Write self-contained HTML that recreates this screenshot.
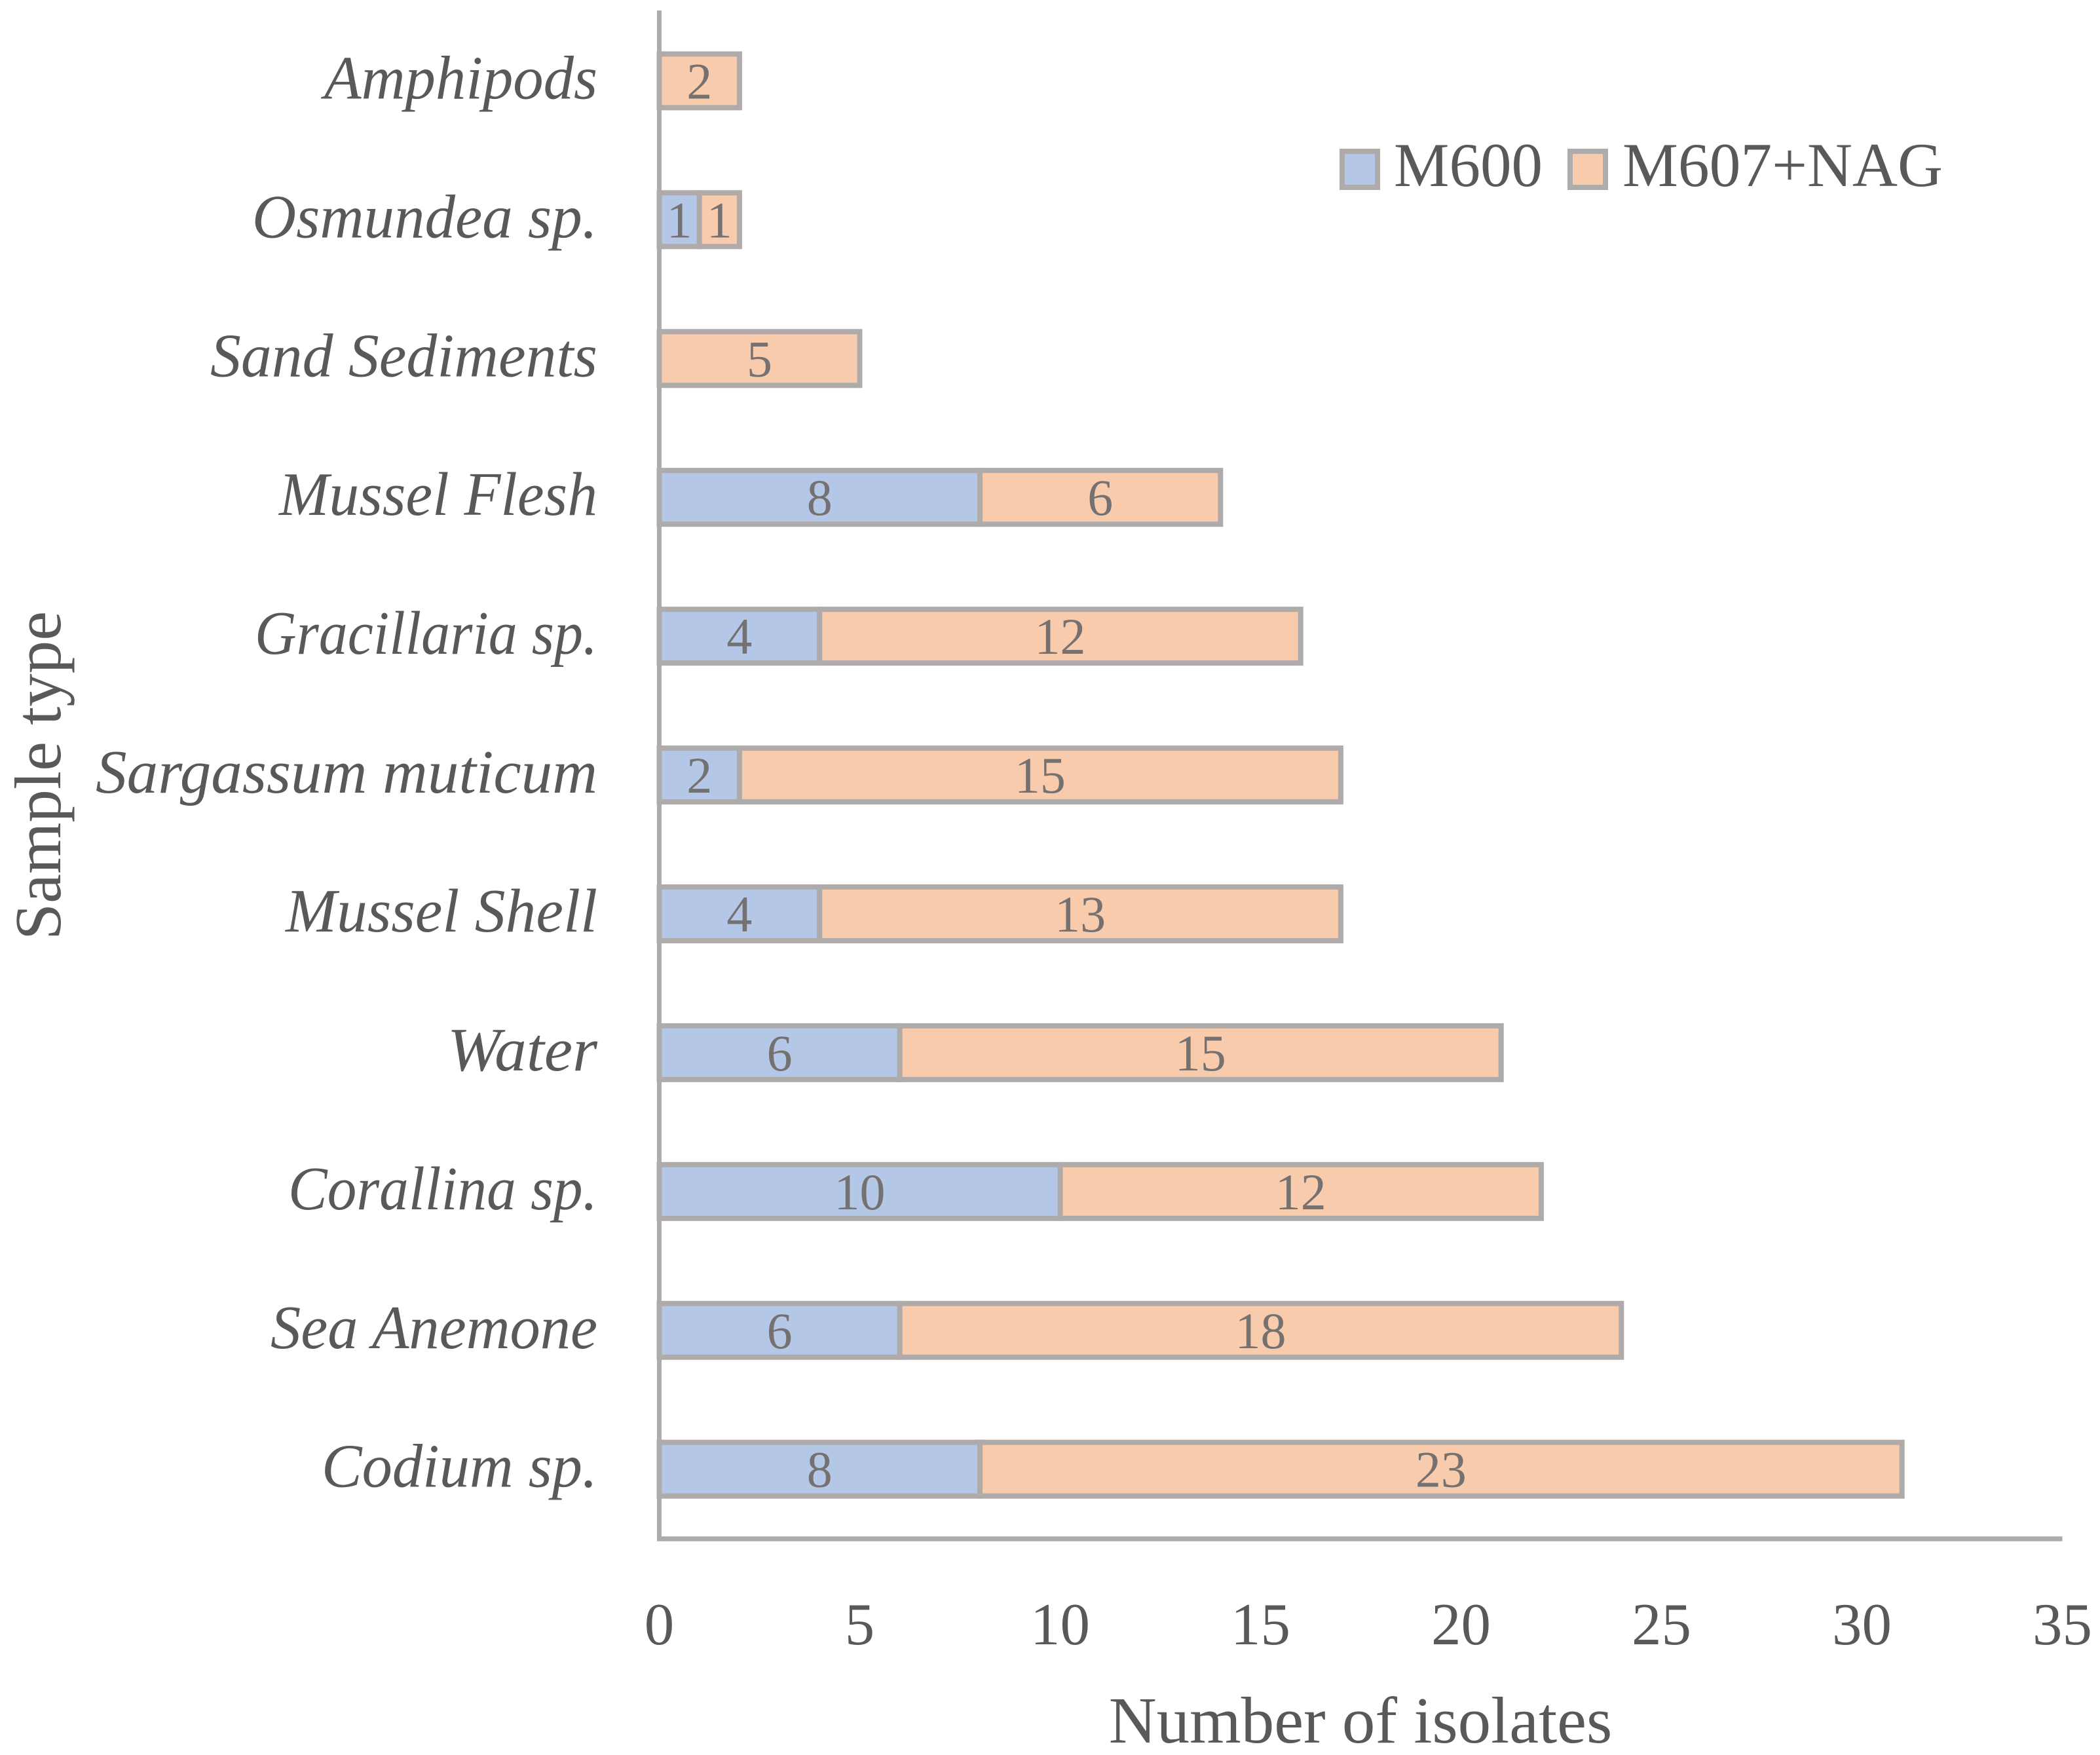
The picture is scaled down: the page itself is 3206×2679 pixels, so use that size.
<!DOCTYPE html>
<html lang="en">
<head>
<meta charset="utf-8">
<title>Isolates by sample type</title>
<style>
html,body{margin:0;padding:0;background:#fff;width:3206px;height:2679px;overflow:hidden}
svg{display:block}
text{font-family:"Liberation Serif",serif}
</style>
</head>
<body>
<svg id="chart" xmlns="http://www.w3.org/2000/svg" width="3206" height="2679" viewBox="0 0 3206 2679">
<rect x="0" y="0" width="3206" height="2679" fill="#ffffff"/>
</svg>
<script>
const categories = ["Amphipods","Osmundea sp.","Sand Sediments","Mussel Flesh","Gracillaria sp.","Sargassum muticum","Mussel Shell","Water","Corallina sp.","Sea Anemone","Codium sp."];
const m600Values = [0,1,0,8,4,2,4,6,10,6,8];
const m607Values = [2,1,5,6,12,15,13,15,12,18,23];
const xTicks = [0,5,10,15,20,25,30,35];
const seriesNames = ["M600","M607+NAG"];

const NS = "http://www.w3.org/2000/svg";
const svg = document.getElementById("chart");
const X0 = 1006.5, UNIT = 61.2, XMAX = 35;
const Y0 = 123.4, BAND = 211.93, BAR_H = 82;
const AXIS_Y = 2349, AXIS_TOP = 16;
const STROKE = "#AFABAB", BLUE = "#B4C7E7", ORANGE = "#F8CBAD", TXT = "#595959", LBL = "#767171";
// Text-fit widths (typesetting only) compensating for the substitute serif face
const labelFit = {"Amphipods":417,"Osmundea sp.":527,"Sand Sediments":591,"Mussel Flesh":486,"Gracillaria sp.":523,"Sargassum muticum":766,"Mussel Shell":476,"Water":229,"Corallina sp.":472,"Sea Anemone":499,"Codium sp.":421};
const xScale = v => X0 + v * UNIT;
const yScale = i => Y0 + i * BAND;

function mk(tag, attrs, content) {
  const el = document.createElementNS(NS, tag);
  for (const k in attrs) el.setAttribute(k, attrs[k]);
  if (content !== undefined) el.textContent = content;
  return el;
}
function slug(s) { return s.toLowerCase().replace(/[^a-z0-9]+/g, "-").replace(/-$/, ""); }

// Bars
categories.forEach((cat, i) => {
  const cy = yScale(i);
  const top = cy - BAR_H / 2;
  const a = m600Values[i], b = m607Values[i];
  if (a > 0) {
    const r = mk("rect", {x: xScale(0), y: top, width: xScale(a) - xScale(0), height: BAR_H, fill: BLUE, stroke: STROKE, "stroke-width": 8});
    
    
    svg.appendChild(r);
  }
  if (b > 0) {
    const r = mk("rect", {x: xScale(a), y: top, width: xScale(a + b) - xScale(a), height: BAR_H, fill: ORANGE, stroke: STROKE, "stroke-width": 8});
    
    
    svg.appendChild(r);
  }
  if (a > 0) {
    const t = mk("text", {x: xScale(a / 2), y: cy + 27, "text-anchor": "middle", "font-size": 78, fill: LBL}, String(a));
    
    
    svg.appendChild(t);
  }
  if (b > 0) {
    const t = mk("text", {x: xScale(a + b / 2), y: cy + 27, "text-anchor": "middle", "font-size": 78, fill: LBL}, String(b));
    
    
    svg.appendChild(t);
  }
  const c = mk("text", {x: 912, y: cy + 27, "text-anchor": "end", "font-size": 94, "font-style": "italic", fill: TXT, textLength: labelFit[cat] || 500, lengthAdjust: "spacingAndGlyphs"}, cat);
  
  
  svg.appendChild(c);
});

// Axes
const yAxis = mk("line", {x1: X0, y1: AXIS_TOP, x2: X0, y2: AXIS_Y + 3.5, stroke: STROKE, "stroke-width": 7});


svg.appendChild(yAxis);
const xAxis = mk("line", {x1: X0 - 3.5, y1: AXIS_Y, x2: xScale(XMAX), y2: AXIS_Y, stroke: STROKE, "stroke-width": 7.5});


svg.appendChild(xAxis);

xTicks.forEach(v => {
  const t = mk("text", {x: xScale(v), y: 2510, "text-anchor": "middle", "font-size": 91, fill: TXT}, String(v));
  
  
  svg.appendChild(t);
});

// Axis titles
const xTitle = mk("text", {x: 2077, y: 2660, "text-anchor": "middle", "font-size": 101, fill: TXT}, "Number of isolates");


svg.appendChild(xTitle);
const yTitle = mk("text", {x: 0, y: 0, transform: "translate(92,1184) rotate(-90)", "text-anchor": "middle", "font-size": 101, fill: TXT}, "Sample type");


svg.appendChild(yTitle);

// Legend
const swatch1 = mk("rect", {x: 2049, y: 231, width: 54, height: 55, fill: BLUE, stroke: STROKE, "stroke-width": 8});


svg.appendChild(swatch1);
const legend1 = mk("text", {x: 2128, y: 284, "font-size": 95, fill: TXT}, seriesNames[0]);


svg.appendChild(legend1);
const swatch2 = mk("rect", {x: 2397, y: 231, width: 54, height: 55, fill: ORANGE, stroke: STROKE, "stroke-width": 8});


svg.appendChild(swatch2);
const legend2 = mk("text", {x: 2477, y: 284, "font-size": 95.5, fill: TXT}, seriesNames[1]);


svg.appendChild(legend2);
</script>
</body>
</html>
